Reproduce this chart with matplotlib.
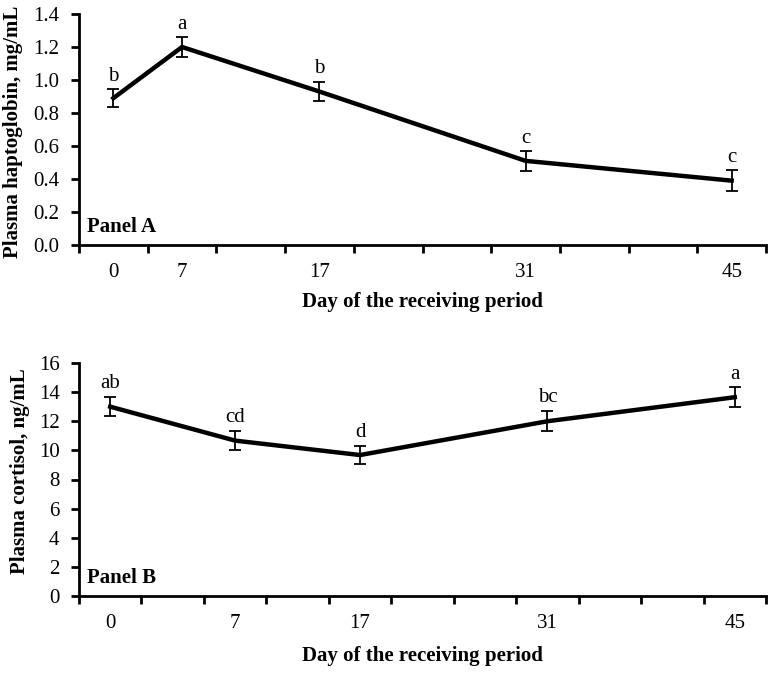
import matplotlib
matplotlib.use("Agg")
import matplotlib.pyplot as plt
import numpy as np

plt.rcParams['font.family'] = ['Liberation Serif', 'DejaVu Serif']

days = ["0", "7", "17", "31", "45"]

# Panel A: haptoglobin
hp_mean = [0.89, 1.20, 0.93, 0.51, 0.39]
hp_se = [0.055, 0.06, 0.06, 0.06, 0.063]
hp_letters = ["b", "a", "b", "c", "c"]
hp_pos = [0, 1, 3, 6, 9]

# Panel B: cortisol
co_mean = [13.0, 10.67, 9.68, 12.0, 13.65]
co_se = [0.66, 0.67, 0.63, 0.7, 0.67]
co_letters = ["ab", "cd", "d", "bc", "a"]
co_pos = [0, 2, 4, 7, 10]

W, H = 772, 673
fig = plt.figure(figsize=(W/100, H/100), dpi=100)

def px_axes(l, t, r, b):
    return fig.add_axes([l/W, 1 - b/H, (r-l)/W, (b-t)/H])

axA = px_axes(79, 14, 766, 245)
axB = px_axes(79, 363, 766, 596)

FS = 15

def style(ax, pos, mean, se, letters, ncat, ymax, ystep, fmt, ylabel, panel, lab_off,
          ylab_x, ylab_y, xlab_pad):
    ax.plot(pos, mean, color='black', lw=3.2, solid_joinstyle='miter', zorder=3)
    ax.errorbar(pos, mean, yerr=se, fmt='none', ecolor='black', elinewidth=1.3,
                capsize=4, capthick=1.3, zorder=4)
    for x, m, s, l in zip(pos, mean, se, letters):
        ax.text(x, m + s + lab_off, l, ha='center', va='bottom', fontsize=FS)
    ax.set_xlim(-0.5, ncat - 0.5)
    ax.set_ylim(0, ymax)
    ax.set_xticks(np.arange(-0.5, ncat, 1.0))
    ax.set_xticklabels([])
    ax.set_xticks(pos, minor=True)
    ax.set_xticklabels(days, minor=True)
    ax.tick_params(axis='x', which='major', direction='out', length=6, width=2)
    ax.tick_params(axis='x', which='minor', length=0, pad=13, labelsize=FS)
    yt = np.arange(0, ymax + 1e-9, ystep)
    ax.set_yticks(yt)
    ax.set_yticklabels([fmt.format(v) for v in yt])
    ax.tick_params(axis='y', direction='out', length=6, width=2, labelsize=FS, pad=8)
    for s in ['top', 'right']:
        ax.spines[s].set_visible(False)
    for s in ['left', 'bottom']:
        ax.spines[s].set_linewidth(2)
    ax.set_xlabel("Day of the receiving period", fontsize=FS, fontweight='bold',
                  labelpad=xlab_pad)
    fig.text(ylab_x / W, 1 - ylab_y / H, ylabel, rotation=90, fontsize=FS,
             fontweight='bold', ha='center', va='center')
    ax.text(0.012, 0.035, panel, transform=ax.transAxes, fontsize=FS,
            fontweight='bold', ha='left', va='bottom')

style(axA, hp_pos, hp_mean, hp_se, hp_letters, 10, 1.4, 0.2, "{:.1f}",
      "Plasma haptoglobin, mg/mL", "Panel A", 0.02, 13, 132, 7)
style(axB, co_pos, co_mean, co_se, co_letters, 11, 16, 2, "{:.0f}",
      "Plasma cortisol, ng/mL", "Panel B", 0.25, 20, 471, 9)

fig.savefig("out.png", dpi=100, facecolor='white')
